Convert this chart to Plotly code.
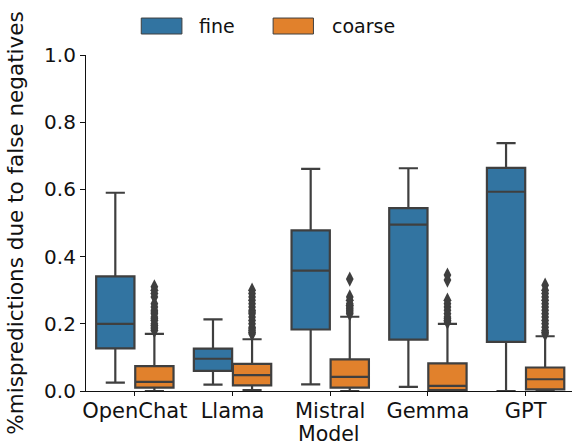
import plotly.graph_objects as go

models = ["OpenChat", "Llama", "Mistral", "Gemma", "GPT"]

# fine (blue) box stats
fine_q1 = [0.127, 0.060, 0.183, 0.153, 0.146]
fine_median = [0.200, 0.096, 0.358, 0.495, 0.593]
fine_q3 = [0.341, 0.126, 0.478, 0.544, 0.664]
fine_lower = [0.025, 0.019, 0.020, 0.012, 0.000]
fine_upper = [0.590, 0.213, 0.661, 0.663, 0.738]

# coarse (orange) box stats
coarse_q1 = [0.010, 0.017, 0.010, 0.003, 0.005]
coarse_median = [0.027, 0.047, 0.042, 0.015, 0.035]
coarse_q3 = [0.074, 0.081, 0.094, 0.082, 0.070]
coarse_lower = [0.000, 0.003, 0.000, 0.000, 0.000]
coarse_upper = [0.170, 0.154, 0.221, 0.200, 0.163]

# coarse outliers per model
out_openchat = [0.18, 0.185, 0.19, 0.195, 0.20, 0.21, 0.215, 0.22, 0.23, 0.235, 0.24, 0.25, 0.26, 0.28, 0.29, 0.30, 0.31]
out_llama = [0.17, 0.175, 0.18, 0.185, 0.19, 0.20, 0.21, 0.22, 0.23, 0.235, 0.24, 0.25, 0.26, 0.27, 0.28, 0.29, 0.30]
out_mistral = [0.23, 0.235, 0.24, 0.245, 0.25, 0.255, 0.26, 0.27, 0.28, 0.333]
out_gemma = [0.205, 0.21, 0.215, 0.22, 0.23, 0.24, 0.25, 0.26, 0.27, 0.33, 0.345]
out_gpt = [0.17, 0.175, 0.18, 0.19, 0.20, 0.21, 0.22, 0.23, 0.24, 0.25, 0.26, 0.27, 0.28, 0.29, 0.30, 0.315]
coarse_outliers = [out_openchat, out_llama, out_mistral, out_gemma, out_gpt]

series_names = ["fine", "coarse"]
BLUE = "#3274A1"
ORANGE = "#E1812C"
EDGE = "#3f3f3f"
TXT = "#111111"
FONT = "DejaVu Sans"

idx = list(range(len(models)))
off = 0.2
bw = 0.392

fig = go.Figure()
fig.add_trace(go.Box(
    x=[i - off for i in idx], q1=fine_q1, median=fine_median, q3=fine_q3,
    lowerfence=fine_lower, upperfence=fine_upper,
    width=bw, whiskerwidth=0.5, fillcolor=BLUE,
    line=dict(color=EDGE, width=2.2), boxpoints=False,
    name=series_names[0], showlegend=False, hoverinfo="skip"))
fig.add_trace(go.Box(
    x=[i + off for i in idx], q1=coarse_q1, median=coarse_median, q3=coarse_q3,
    lowerfence=coarse_lower, upperfence=coarse_upper,
    width=bw, whiskerwidth=0.5, fillcolor=ORANGE,
    line=dict(color=EDGE, width=2.2), boxpoints=False,
    name=series_names[1], showlegend=False, hoverinfo="skip"))

ox, oy = [], []
for i, vals in zip(idx, coarse_outliers):
    ox += [i + off] * len(vals)
    oy += vals
fig.add_trace(go.Scatter(
    x=ox, y=oy, mode="markers", showlegend=False,
    marker=dict(symbol="diamond-tall", size=11, color=EDGE, line=dict(width=0))))

# legend drawn as patches + text (paper coords)
leg = [(0.1137, 0.1974, BLUE, 0.229, series_names[0]),
       (0.385, 0.468, ORANGE, 0.502, series_names[1])]
for x0, x1, col, tx, name in leg:
    fig.add_shape(type="rect", xref="paper", yref="paper",
                  x0=x0, x1=x1, y0=1.0625, y1=1.110,
                  fillcolor=col, line=dict(color=EDGE, width=1))
    fig.add_annotation(xref="paper", yref="paper", x=tx, y=1.086,
                       text=name, showarrow=False, xanchor="left", yanchor="middle",
                       font=dict(family=FONT, size=19, color=TXT))

fig.update_layout(
    width=572, height=448,
    margin=dict(l=86, r=0, t=55, b=57),
    paper_bgcolor="white", plot_bgcolor="white",
    font=dict(family=FONT, color=TXT),
    boxmode="overlay",
)
fig.update_xaxes(
    range=[-0.5, 4.475], tickvals=idx, ticktext=models,
    showline=True, linecolor=TXT, linewidth=1.2,
    ticks="outside", ticklen=4, tickcolor=TXT, tickwidth=1.2,
    ticklabelstandoff=-3,
    showgrid=False, zeroline=False,
    tickfont=dict(family=FONT, size=21, color=TXT),
)
fig.update_yaxes(
    range=[0, 1], tickvals=[0, 0.2, 0.4, 0.6, 0.8, 1.0], tickformat=".1f",
    showline=True, linecolor=TXT, linewidth=1.2,
    ticks="outside", ticklen=5, tickcolor=TXT, tickwidth=1.2,
    showgrid=False, zeroline=False,
    tickfont=dict(family=FONT, size=20, color=TXT),
    title=dict(text="%mispredictions due to false negatives",
               font=dict(family=FONT, size=21.5, color=TXT), standoff=14),
)
# x-axis title placed as annotation at the bottom edge
fig.add_annotation(xref="paper", yref="paper", x=0.5, y=-0.1696,
                   text="Model", showarrow=False, xanchor="center", yanchor="bottom",
                   font=dict(family=FONT, size=20.5, color=TXT))

fig.write_html("out.html")
